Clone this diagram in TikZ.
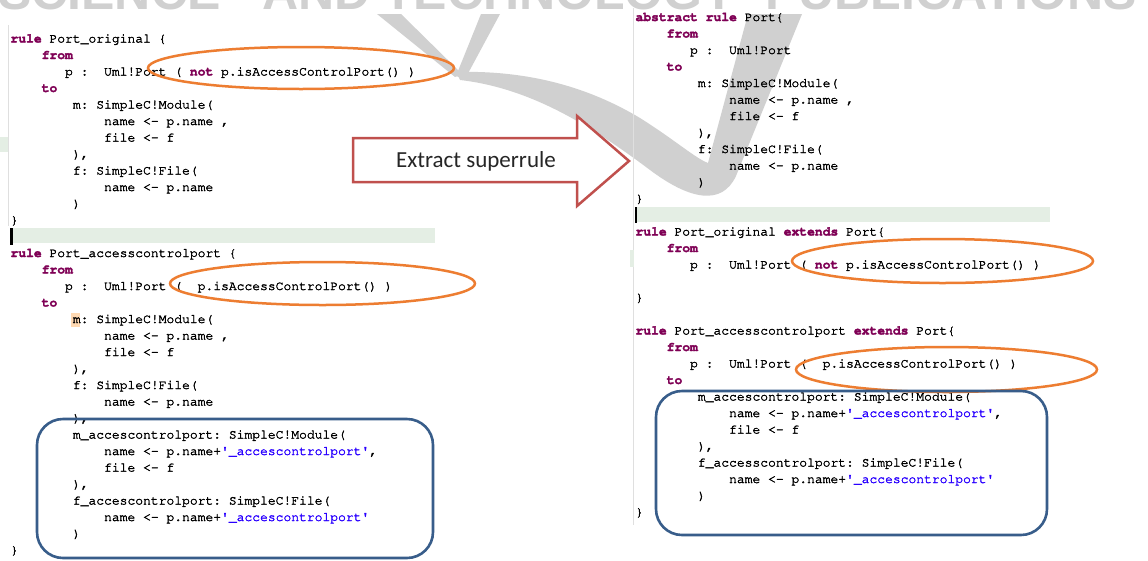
\documentclass[tikz,border=0pt]{standalone}
\usepackage[T1]{fontenc}
\usepackage{fontspec}
\setmainfont{Carlito}
\newfontfamily\wmfont{Liberation Sans}
\usetikzlibrary{shapes.geometric}
\definecolor{kwc}{RGB}{127,0,85}
\definecolor{strc}{RGB}{42,0,255}
\definecolor{ovalc}{RGB}{237,125,49}
\definecolor{boxc}{RGB}{56,93,138}
\definecolor{arrc}{RGB}{192,80,77}
\definecolor{wmc}{RGB}{208,208,208}
\definecolor{greenbar}{RGB}{228,238,228}
\newcommand\codefont{\fontencoding{T1}\fontfamily{pcr}\fontseries{m}\fontshape{n}\fontsize{13}{16.5}\selectfont\frenchspacing}
\newcommand\kw[1]{{\color{kwc}\bfseries #1}}
\newcommand\str[1]{{\color{strc}\textquotesingle\_accescontrolport\textquotesingle}}
\newcommand\sps[1]{\hspace*{#1\dimexpr 7.8pt\relax}}
\newcommand\heavy[1]{\special{pdf:literal direct 2 Tr 0.3 w}#1\special{pdf:literal direct 0 Tr}}
\newcommand\codeln[5]{\node[codetxt] (#1) at ({#2+#3*7.8},#4) {\heavy{#5}};}
\tikzset{
  codetxt/.style={anchor=base west, inner sep=0pt, outer sep=0pt, font=\codefont, text=black},
  oval/.style={ellipse, draw=ovalc, line width=2.5pt, inner sep=0pt},
  rrect/.style={rectangle, draw=boxc, line width=2.6pt, rounded corners=26pt, inner sep=0pt},
  wmword/.style={anchor=base west, inner sep=0pt, font=\wmfont\bfseries\fontsize{50}{50}\selectfont, text=wmc},
}
\begin{document}
\begin{tikzpicture}[x=1pt,y=-1pt]
\useasboundingbox (0,0) rectangle (1148,560);
\clip (0,0) rectangle (1148,560);
\fill[white] (0,0) rectangle (1148,560);
% watermark
\node[wmword] (w1) at (-2,9.5) {SCIENCE};
\node[wmword] (w2) at (262,9.5) {AND};
\node[wmword] (w3) at (383,9.5) {TECHNOLOGY};
\node[wmword] (w4) at (765,9.5) {PUBLICATIONS};
\fill[wmc] (377,14) -- (401,14) -- (462,74) -- (455,77) -- cycle;
\fill[wmc] (481,14) -- (500,14) -- (465,79) -- (456,76) -- cycle;
\fill[wmc] (456,72) .. controls (530,70) and (590,88) .. (640,118)
  .. controls (675,140) and (695,158) .. (708,163) -- (748,14) -- (802,14) -- (736,176)
  .. controls (722,206) and (690,200) .. (650,170)
  .. controls (590,125) and (530,88) .. (460,80) -- cycle;
% editor details
\draw[gray!25, line width=0.8pt] (8.5,25) -- (8.5,226);
\draw[gray!25, line width=0.8pt] (633,8) -- (633,525);
\fill[greenbar] (0,137) rectangle (8,152);
\fill[greenbar] (630,250) rectangle (633.5,267);
\fill[greenbar] (12,228) rectangle (435,243);
\fill[black] (10,228) rectangle (12.5,245);
\fill[greenbar] (637,207) rectangle (1050,222);
\fill[black] (634.5,207) rectangle (637,223);
\fill[orange!30] (70.5,313) rectangle (79.5,327);
% left top
\codeln{lt0}{10.5}{0}{42.5}{\kw{rule} Port\_original \{}
\codeln{lt1}{10.5}{4}{59}{\kw{from}}
\codeln{lt2}{10.5}{7}{75.5}{p :\sps{2}Uml!Port ( \kw{not} p.isAccessControlPort() )}
\codeln{lt3}{10.5}{4}{92}{\kw{to}}
\codeln{lt4}{10.5}{8}{108.5}{m: SimpleC!Module(}
\codeln{lt5}{10.5}{12}{125}{name <- p.name ,}
\codeln{lt6}{10.5}{12}{141.5}{file <- f}
\codeln{lt7}{10.5}{8}{158}{),}
\codeln{lt8}{10.5}{8}{174.5}{f: SimpleC!File(}
\codeln{lt9}{10.5}{12}{191}{name <- p.name}
\codeln{lt10}{10.5}{8}{207.5}{)}
\codeln{lt11}{10.5}{0}{224}{\}}
% left bottom
\codeln{lb0}{10.5}{0}{257}{\kw{rule} Port\_accesscontrolport \{}
\codeln{lb1}{10.5}{4}{273.5}{\kw{from}}
\codeln{lb2}{10.5}{7}{290}{p :\sps{2}Uml!Port (\sps{2}p.isAccessControlPort() )}
\codeln{lb3}{10.5}{4}{306.5}{\kw{to}}
\codeln{lb4}{10.5}{8}{323}{m: SimpleC!Module(}
\codeln{lb5}{10.5}{12}{339.5}{name <- p.name ,}
\codeln{lb6}{10.5}{12}{356}{file <- f}
\codeln{lb7}{10.5}{8}{372.5}{),}
\codeln{lb8}{10.5}{8}{389}{f: SimpleC!File(}
\codeln{lb9}{10.5}{12}{405.5}{name <- p.name}
\codeln{lb10}{10.5}{8}{422}{),}
\codeln{lb11}{10.5}{8}{438.5}{m\_accescontrolport: SimpleC!Module(}
\codeln{lb12}{10.5}{12}{455}{name <- p.name+\str{},}
\codeln{lb13}{10.5}{12}{471.5}{file <- f}
\codeln{lb14}{10.5}{8}{488}{),}
\codeln{lb15}{10.5}{8}{504.5}{f\_accescontrolport: SimpleC!File(}
\codeln{lb16}{10.5}{12}{521}{name <- p.name+\str{}}
\codeln{lb17}{10.5}{8}{537.5}{)}
\codeln{lb18}{10.5}{0}{554}{\}}
% right top
\codeln{rt0}{635.5}{0}{21}{\kw{abstract rule} Port\{}
\codeln{rt1}{635.5}{4}{37.5}{\kw{from}}
\codeln{rt2}{635.5}{7}{54}{p :\sps{2}Uml!Port}
\codeln{rt3}{635.5}{4}{70.5}{\kw{to}}
\codeln{rt4}{635.5}{8}{87}{m: SimpleC!Module(}
\codeln{rt5}{635.5}{12}{103.5}{name <- p.name ,}
\codeln{rt6}{635.5}{12}{120}{file <- f}
\codeln{rt7}{635.5}{8}{136.5}{),}
\codeln{rt8}{635.5}{8}{153}{f: SimpleC!File(}
\codeln{rt9}{635.5}{12}{169.5}{name <- p.name}
\codeln{rt10}{635.5}{8}{186}{)}
\codeln{rt11}{635.5}{0}{202.5}{\}}
% right bottom
\codeln{rb0}{635.5}{0}{235.5}{\kw{rule} Port\_original \kw{extends} Port\{}
\codeln{rb1}{635.5}{4}{252}{\kw{from}}
\codeln{rb2}{635.5}{7}{268.5}{p :\sps{2}Uml!Port ( \kw{not} p.isAccessControlPort() )}
\codeln{rb4}{635.5}{0}{301.5}{\}}
\codeln{rb6}{635.5}{0}{334.5}{\kw{rule} Port\_accesscontrolport \kw{extends} Port\{}
\codeln{rb7}{635.5}{4}{351}{\kw{from}}
\codeln{rb8}{635.5}{7}{367.5}{p :\sps{2}Uml!Port (\sps{2}p.isAccessControlPort() )}
\codeln{rb9}{635.5}{4}{384}{\kw{to}}
\codeln{rb10}{635.5}{8}{400.5}{m\_accescontrolport: SimpleC!Module(}
\codeln{rb11}{635.5}{12}{417}{name <- p.name+\str{},}
\codeln{rb12}{635.5}{12}{433.5}{file <- f}
\codeln{rb13}{635.5}{8}{450}{),}
\codeln{rb14}{635.5}{8}{466.5}{f\_accesscontrolport: SimpleC!File(}
\codeln{rb15}{635.5}{12}{483}{name <- p.name+\str{}}
\codeln{rb16}{635.5}{8}{499.5}{)}
\codeln{rb17}{635.5}{0}{516}{\}}
% highlight ovals
\node[oval, minimum width=306pt, minimum height=42pt] (e1) at (301,68) {};
\node[oval, minimum width=305pt, minimum height=43pt] (e2) at (322.5,283.5) {};
\node[oval, minimum width=301pt, minimum height=44pt] (e3) at (942.5,261) {};
\node[oval, minimum width=301pt, minimum height=45pt] (e4) at (946.5,369.5) {};
% boxes
\node[rrect, minimum width=396pt, minimum height=139pt] (r1) at (235,488.5) {};
\node[rrect, minimum width=391pt, minimum height=144pt] (r2) at (851.5,463) {};
% arrow
\draw[draw=arrc, fill=white, line width=2.5pt, line join=miter]
  (353,138) -- (577,138) -- (577,116) -- (629,161) -- (577,206) -- (577,182) -- (353,182) -- cycle;
\node[font=\fontsize{23}{27}\selectfont, text=black!85, inner sep=0pt] (lbl) at (476,161) {Extract superrule};
\end{tikzpicture}
\end{document}
